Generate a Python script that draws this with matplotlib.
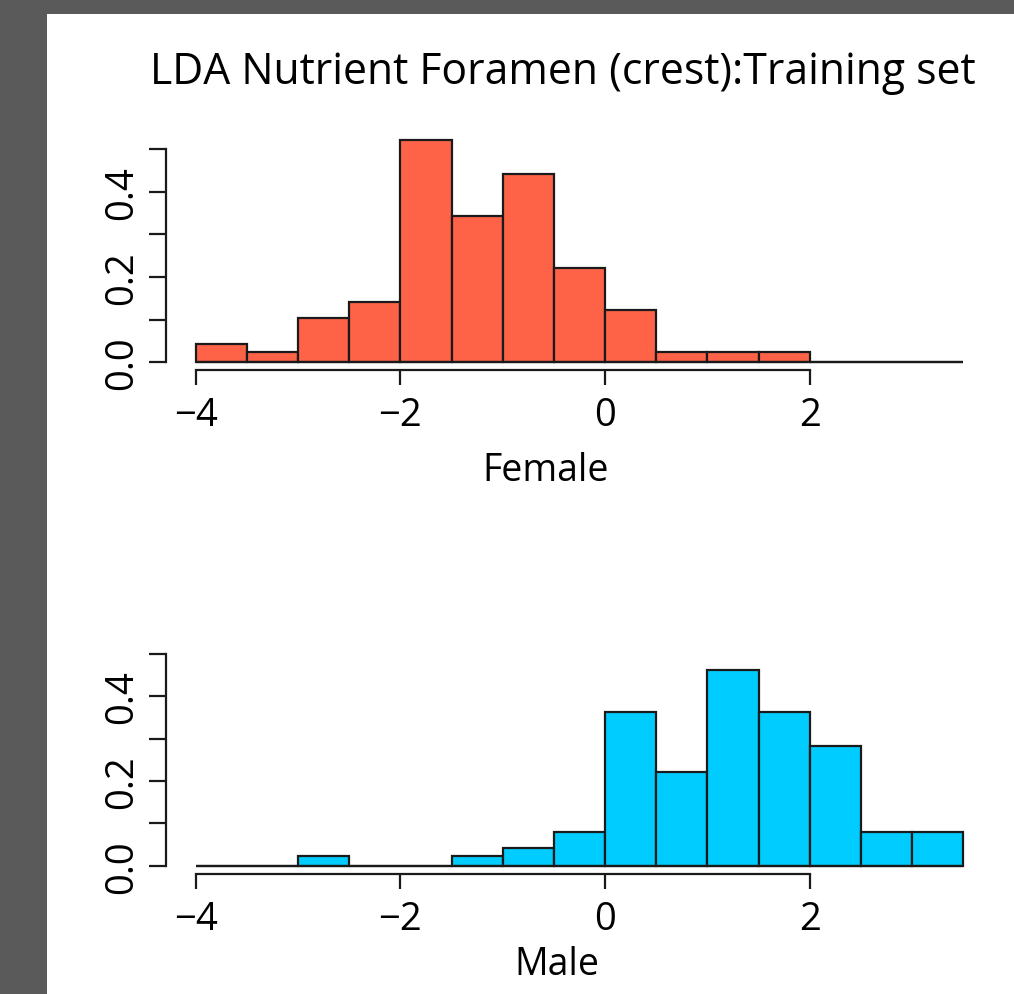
import numpy as np
import matplotlib
matplotlib.use("Agg")
import matplotlib.pyplot as plt
from matplotlib.patches import Rectangle

plt.rcParams['font.family'] = ['Open Sans', 'DejaVu Sans']

# histogram bins (width 0.5) and densities
bin_edges = [-4.0, -3.5, -3.0, -2.5, -2.0, -1.5, -1.0, -0.5, 0.0, 0.5, 1.0, 1.5, 2.0, 2.5, 3.0, 3.5]
female_density = [0.042, 0.023, 0.104, 0.141, 0.521, 0.343, 0.441, 0.220, 0.122, 0.023, 0.023, 0.023, 0, 0, 0]
male_density = [0, 0, 0.023, 0, 0, 0.023, 0.042, 0.080, 0.363, 0.221, 0.461, 0.363, 0.283, 0.080, 0.080]
x_ticks = [-4, -2, 0, 2]
y_ticks = [0.0, 0.1, 0.2, 0.3, 0.4, 0.5]
y_labels = ['0.0', '', '0.2', '', '0.4', '']

title = 'LDA Nutrient Foramen (crest):Training set'
panels = [('Female', female_density, '#FF6347'), ('Male', male_density, '#00CCFF')]

W, H = 1014, 995
fig = plt.figure(figsize=(W / 100, H / 100), dpi=100, facecolor='#5a5a5a')
# white page on the grey background
fig.patches.append(Rectangle((47 / W, 0), 1 - 47 / W, 1 - 15 / H, transform=fig.transFigure,
                             facecolor='white', edgecolor='none', zorder=-5))

# axes boxes in pixels: left, zero-line y, px per y-unit, spine offset, label centre x, label y
boxes = [(195.7, 363.3, 426.5, 7.4, 546, 471), (195.7, 866.7, 423.5, 8.3, 557, 965)]
px_per_x = 102.35

edges = np.array(bin_edges)
lw = 1.6
ink = '#1a1a1a'
for (label, dens, color), (left, y0, py, off, lab_x, lab_y) in zip(panels, boxes):
    width_px = (edges[-1] - edges[0]) * px_per_x
    ymax = 0.53
    ax = fig.add_axes([left / W, (H - y0) / H, width_px / W, ymax * py / H])
    ax.set_facecolor('none')
    ax.bar(edges[:-1], dens, width=np.diff(edges), align='edge', color=color,
           edgecolor=ink, linewidth=lw, clip_on=False)
    ax.hlines(0, edges[0], edges[-1], color=ink, linewidth=lw, clip_on=False)
    ax.set_xlim(edges[0], edges[-1])
    ax.set_ylim(0, ymax)
    for s in ['top', 'right']:
        ax.spines[s].set_visible(False)
    ax.spines['left'].set_position(('outward', 30 * 0.72))
    ax.spines['bottom'].set_position(('outward', off * 0.72))
    ax.spines['left'].set_bounds(0, 0.5)
    ax.spines['bottom'].set_bounds(x_ticks[0], x_ticks[-1])
    for s in ['left', 'bottom']:
        ax.spines[s].set_linewidth(lw)
        ax.spines[s].set_color(ink)
    ax.set_xticks(x_ticks)
    ax.set_xticklabels([f'{t:d}'.replace('-', '\u2212') for t in x_ticks])
    ax.set_yticks(y_ticks)
    ax.set_yticklabels(y_labels, rotation=90, va='center')
    ax.tick_params(axis='x', length=11, width=lw, pad=8, labelsize=27.5, color=ink)
    ax.tick_params(axis='y', length=12, width=lw, pad=6, labelsize=27.5, color=ink)
    ax.set_xlabel(label, fontsize=27, va='center')
    ax.xaxis.set_label_coords((lab_x - left) / width_px, -(lab_y - y0) / (ymax * py))

fig.text(563 / W, 1 - 84 / H, title, ha='center', va='baseline', fontsize=30.8)

fig.savefig('out.png', dpi=100, facecolor=fig.get_facecolor())
